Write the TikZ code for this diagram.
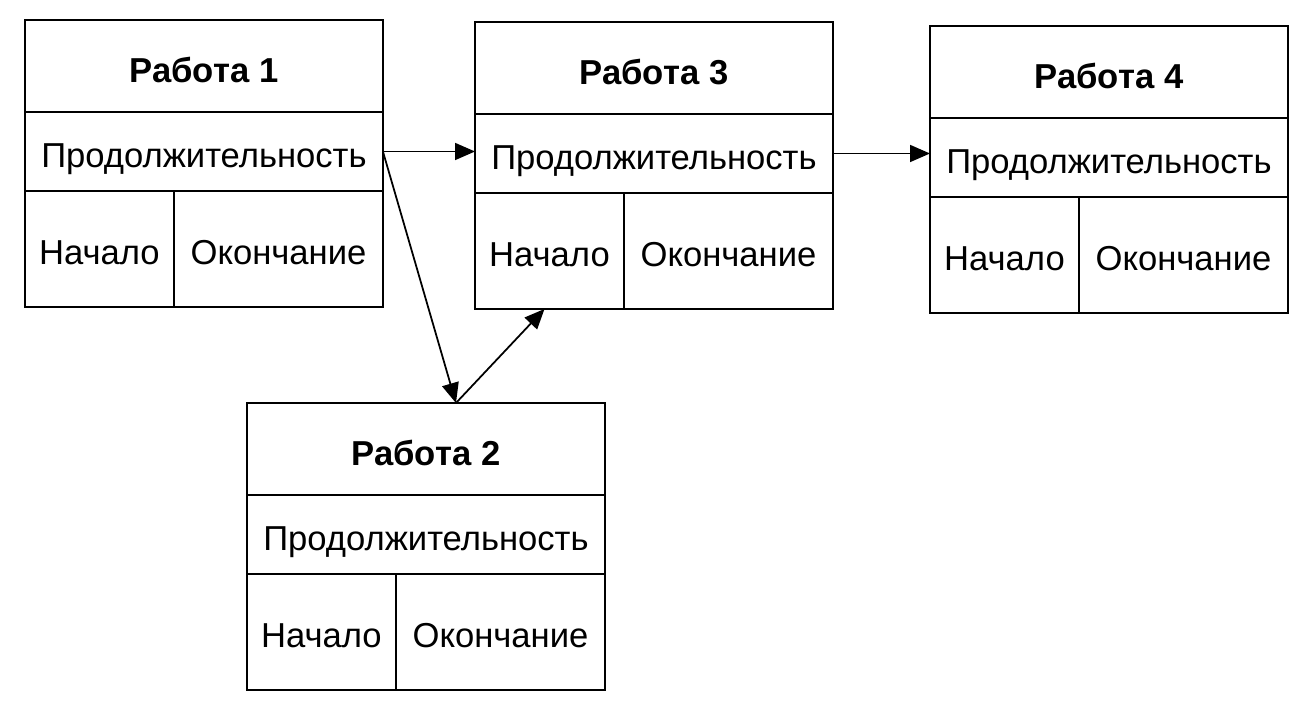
\documentclass[tikz,border=0pt]{standalone}
\usepackage{fontspec}
\setmainfont{Liberation Sans}
\usetikzlibrary{arrows.meta}

\tikzset{
    cell/.style={draw, line width=1.1pt, inner sep=0pt, outer sep=0pt, anchor=north west,
        text height=18pt, text depth=0pt, font=\fontsize{19.7}{22}\selectfont},
    headcell/.style={cell, minimum width=7.16cm, minimum height=1.84cm,
        text height=19pt, font=\bfseries\fontsize{19.7}{22}\selectfont},
    durcell/.style={cell, minimum width=7.16cm, minimum height=1.58cm},
    begcell/.style={cell, minimum width=2.98cm, minimum height=2.32cm},
    endcell/.style={cell, minimum width=4.18cm, minimum height=2.32cm},
    link/.style={line width=1pt, -{Triangle[length=0.4cm,width=0.34cm]}}
}

\begin{document}
\begin{tikzpicture}[x=0.02cm,y=-0.02cm]
    \useasboundingbox (0,0) rectangle (1307,709);

    \node[headcell] at (25,20)   (h1) {Работа 1};
    \node[durcell]  at (25,112)  (d1) {Продолжительность};
    \node[begcell]  at (25,191)  (b1) {Начало};
    \node[endcell]  at (174,191) (e1) {Окончание};

    \node[headcell] at (475,22)  (h3) {Работа 3};
    \node[durcell]  at (475,114) (d3) {Продолжительность};
    \node[begcell]  at (475,193) (b3) {Начало};
    \node[endcell]  at (624,193) (e3) {Окончание};

    \node[headcell] at (930,26)   (h4) {Работа 4};
    \node[durcell]  at (930,118)  (d4) {Продолжительность};
    \node[begcell]  at (930,197)  (b4) {Начало};
    \node[endcell]  at (1079,197) (e4) {Окончание};

    \node[headcell] at (247,403) (h2) {Работа 2};
    \node[durcell]  at (247,495) (d2) {Продолжительность};
    \node[begcell]  at (247,574) (b2) {Начало};
    \node[endcell]  at (396,574) (e2) {Окончание};

    \coordinate (top2) at ([xshift=0.6cm]h2.north);
    \coordinate (bot3) at ([xshift=-0.1cm]b3.south);

    \draw[link] (d1.east) -- (d1.east -| d3.west);
    \draw[link] (d3.east) -- (d3.east -| d4.west);
    \draw[link] (d1.east) -- (top2);
    \draw[link] (top2) -- (bot3);
\end{tikzpicture}
\end{document}
